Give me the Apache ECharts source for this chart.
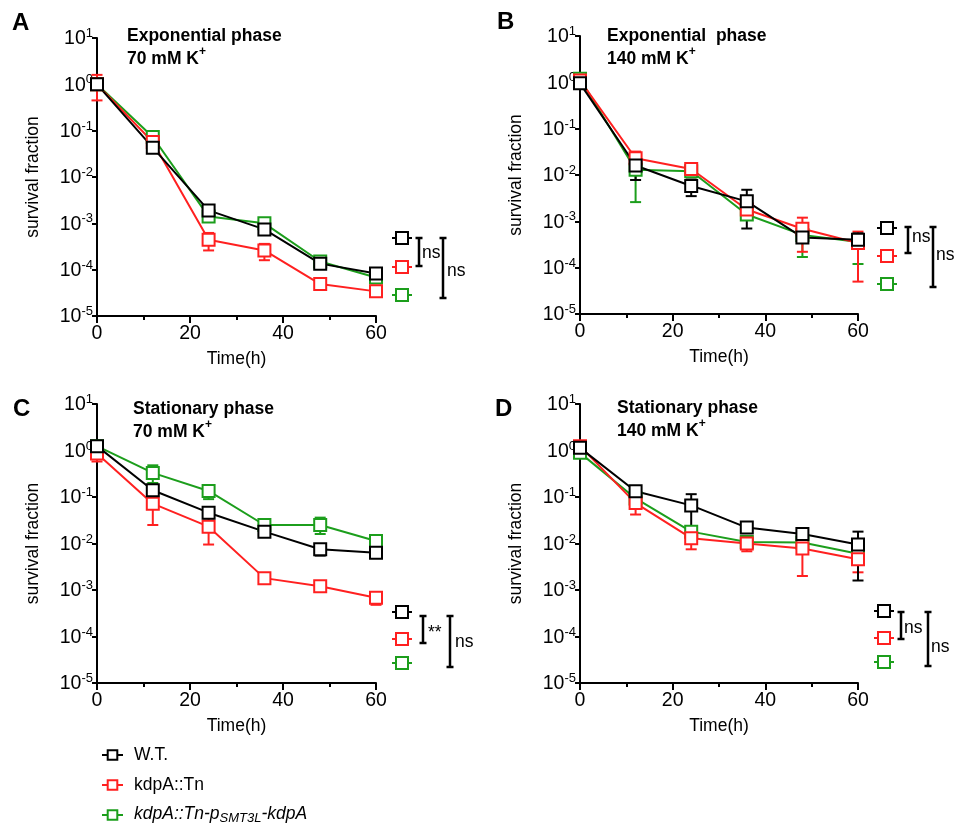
<!DOCTYPE html>
<html><head><meta charset="utf-8">
<script src="https://cdn.jsdelivr.net/npm/echarts@6/dist/echarts.min.js"></script>
<style>html,body{margin:0;padding:0;background:#fff}#c{width:955px;height:827px}</style>
</head><body><div id="c"></div><script>
// ---------- data ----------
const times = [0, 12, 24, 36, 48, 60];
const xTicks = [0, 20, 40, 60];
const seriesNames = ['W.T.', 'kdpA::Tn', 'kdpA::Tn-pSMT3L-kdpA'];
const panelLetters = ['A', 'B', 'C', 'D'];
const titleLine1 = ['Exponential phase', 'Exponential  phase', 'Stationary phase', 'Stationary phase'];
const titleLine2 = ['70 mM K', '140 mM K', '70 mM K', '140 mM K'];
const sigInner = ['ns', 'ns', '**', 'ns'];
const sigOuter = ['ns', 'ns', 'ns', 'ns'];

// Panel A: Exponential phase, 70 mM K+
const A_wt   = [1.0, 0.043, 0.0019, 7.4e-4, 1.35e-4, 8.3e-5];
const A_kdp  = [1.0, 0.057, 4.4e-4, 2.6e-4, 4.9e-5, 3.4e-5];
const A_comp = [1.0, 0.073, 1.4e-3, 1.0e-3, 1.5e-4, 6.8e-5];
const A_wt_err   = [[0.9, 1.1], [0.033, 0.05], [0.0016, 0.0023], [5.8e-4, 9e-4], [1.2e-4, 1.5e-4], [7.3e-5, 9.3e-5]];
const A_kdp_err  = [[0.45, 1.6], [0.05, 0.065], [2.6e-4, 6.2e-4], [1.6e-4, 3.6e-4], null, null];
const A_comp_err = [null, [0.065, 0.082], null, [0.85e-3, 1.15e-3], null, [5.5e-5, 7.5e-5]];

// Panel B: Exponential phase, 140 mM K+
const B_wt   = [0.95, 0.016, 0.0058, 0.0027, 4.5e-4, 4.0e-4];
const B_kdp  = [1.1, 0.023, 0.0135, 0.0018, 6.9e-4, 3.4e-4];
const B_comp = [1.2, 0.013, 0.012, 1.4e-3, 5.1e-4, 3.6e-4];
const B_wt_err   = [null, [0.0078, 0.022], [0.0035, 0.008], [7e-4, 4.8e-3], [3.8e-4, 5.2e-4], [3e-4, 5.5e-4]];
const B_kdp_err  = [[1.0, 1.25], [0.018, 0.032], [0.011, 0.016], [1.3e-3, 2.3e-3], [2.2e-4, 1.2e-3], [5e-5, 6e-4]];
const B_comp_err = [[1.0, 1.5], [2.6e-3, 0.018], [0.0105, 0.0135], [1.1e-3, 1.7e-3], [1.7e-4, 7e-4], [1.2e-4, 5e-4]];

// Panel C: Stationary phase, 70 mM K+
const C_wt   = [1.24, 0.14, 0.046, 0.018, 0.0075, 0.0063];
const C_kdp  = [0.86, 0.072, 0.023, 0.0018, 0.0012, 6.8e-4];
const C_comp = [1.24, 0.33, 0.135, 0.025, 0.025, 0.0113];
const C_wt_err   = [null, [0.12, 0.16], [0.035, 0.055], [0.014, 0.022], [0.0055, 0.009], [0.0055, 0.0072]];
const C_kdp_err  = [[0.58, 1.0], [0.025, 0.1], [0.0095, 0.035], null, null, [4.8e-4, 9e-4]];
const C_comp_err = [null, [0.2, 0.48], [0.09, 0.18], [0.019, 0.031], [0.016, 0.036], [0.01, 0.013]];

// Panel D: Stationary phase, 140 mM K+
const D_wt   = [1.14, 0.133, 0.066, 0.022, 0.016, 0.0095];
const D_kdp  = [1.24, 0.074, 0.013, 0.01, 0.0078, 0.0046];
const D_comp = [0.89, 0.093, 0.018, 0.0108, 0.0105, 0.006];
const D_wt_err   = [null, [0.11, 0.15], [0.02, 0.115], [0.02, 0.025], [0.013, 0.019], [0.0016, 0.018]];
const D_kdp_err  = [[1.0, 1.5], [0.042, 0.1], [0.0075, 0.018], [0.0068, 0.012], [0.002, 0.011], [0.0024, 0.0065]];
const D_comp_err = [null, [0.08, 0.1], [0.013, 0.022], null, [0.009, 0.012], [0.0035, 0.008]];

// ---------- styling / layout ----------
const colors = ['#000000', '#ff2020', '#1c9e1c'];
const FONT = '"Liberation Sans", Arial, sans-serif';
const grids = [
  {left: 97, top: 38, width: 279, height: 278},
  {left: 580, top: 36, width: 278, height: 278},
  {left: 97, top: 404, width: 279, height: 279},
  {left: 580, top: 404, width: 278, height: 279}
];
const letterPos = [[12, 11], [497, 10], [13, 397], [495, 397]];
const titlePos = [[127, 23], [607, 23], [133, 396], [617, 395]];
// annotation layout: mini-legend x, ys; inner bracket x,y1,y2,textX,textY; outer bracket ...
const annot = [
  {mx: 402, my: [238, 267, 295], ix: 419, iy: [238, 266], itx: 422, ity: 253, ox: 443, oy: [238, 298], otx: 447, oty: 271},
  {mx: 887, my: [228, 256, 284], ix: 908, iy: [227, 253], itx: 912, ity: 237, ox: 933, oy: [227, 287], otx: 936, oty: 255},
  {mx: 402, my: [612, 639, 663], ix: 423, iy: [616, 643], itx: 428, ity: 633, ox: 450, oy: [616, 667], otx: 455, oty: 642},
  {mx: 884, my: [611, 638, 662], ix: 901, iy: [612, 639], itx: 904, ity: 628, ox: 928, oy: [612, 666], otx: 931, oty: 647}
];

const panelData = [
  [[A_wt, A_wt_err], [A_kdp, A_kdp_err], [A_comp, A_comp_err]],
  [[B_wt, B_wt_err], [B_kdp, B_kdp_err], [B_comp, B_comp_err]],
  [[C_wt, C_wt_err], [C_kdp, C_kdp_err], [C_comp, C_comp_err]],
  [[D_wt, D_wt_err], [D_kdp, D_kdp_err], [D_comp, D_comp_err]]
];

function renderErr(params, api) {
  const x = api.value(0), lo = api.value(1), hi = api.value(2);
  const pLo = api.coord([x, lo]), pHi = api.coord([x, hi]);
  const w = 5.5;
  const st = {stroke: api.visual('color'), lineWidth: 2, fill: null};
  return {type: 'group', children: [
    {type: 'line', shape: {x1: pLo[0], y1: pLo[1], x2: pHi[0], y2: pHi[1]}, style: st},
    {type: 'line', shape: {x1: pLo[0] - w, y1: pLo[1], x2: pLo[0] + w, y2: pLo[1]}, style: st},
    {type: 'line', shape: {x1: pHi[0] - w, y1: pHi[1], x2: pHi[0] + w, y2: pHi[1]}, style: st}
  ]};
}

const xAxes = [], yAxes = [], series = [], titles = [], graphics = [];
grids.forEach((g, p) => {
  xAxes.push({
    type: 'value', gridIndex: p, min: 0, max: 60, interval: 20,
    axisLine: {lineStyle: {color: '#000', width: 2}},
    axisTick: {length: 7, lineStyle: {color: '#000', width: 2}},
    minorTick: {show: true, splitNumber: 2, length: 4, lineStyle: {color: '#000', width: 2}},
    splitLine: {show: false},
    axisLabel: {fontSize: 19.5, color: '#000', margin: 8, fontFamily: FONT},
    name: 'Time(h)', nameLocation: 'middle', nameGap: 34,
    nameTextStyle: {fontSize: 17.5, color: '#000', fontFamily: FONT}
  });
  yAxes.push({
    type: 'log', logBase: 10, gridIndex: p, min: 1e-5, max: 10, splitNumber: 6,
    axisLine: {show: true, lineStyle: {color: '#000', width: 2}},
    axisTick: {show: true, length: 5, lineStyle: {color: '#000', width: 2}},
    splitLine: {show: false},
    axisLabel: {
      margin: 4, color: '#000', fontFamily: FONT,
      formatter: v => '{a|10}{b|' + Math.round(Math.log10(v)) + '}',
      rich: {
        a: {fontSize: 19.5, lineHeight: 22, verticalAlign: 'bottom', color: '#000', fontFamily: FONT},
        b: {fontSize: 13, lineHeight: 13, verticalAlign: 'top', color: '#000', fontFamily: FONT}
      }
    },
    name: 'survival fraction', nameLocation: 'middle', nameGap: 55,
    nameTextStyle: {fontSize: 17.5, color: '#000', fontFamily: FONT}
  });
  // error bars first (drawn underneath), order: comp, kdp, wt
  [2, 1, 0].forEach(k => {
    const errs = panelData[p][k][1];
    const d = [];
    errs.forEach((e, i) => { if (e) d.push([times[i], e[0], e[1]]); });
    series.push({
      type: 'custom', name: 'err' + p + k, xAxisIndex: p, yAxisIndex: p,
      renderItem: renderErr, data: d, encode: {x: 0, y: [1, 2]},
      itemStyle: {color: colors[k]}, z: 2, silent: true
    });
  });
  [2, 1, 0].forEach(k => {
    const vals = panelData[p][k][0];
    series.push({
      type: 'line', name: seriesNames[k], xAxisIndex: p, yAxisIndex: p,
      data: vals.map((v, i) => [times[i], v]),
      symbol: 'rect', symbolSize: 12, showAllSymbol: true,
      lineStyle: {color: colors[k], width: 2},
      itemStyle: {color: '#fff', borderColor: colors[k], borderWidth: 2},
      emphasis: {disabled: true}, z: 3
    });
  });
  titles.push({
    text: panelLetters[p], left: letterPos[p][0], top: letterPos[p][1], padding: 0,
    textStyle: {fontSize: 24, fontWeight: 'bold', color: '#000', fontFamily: FONT, lineHeight: 24}
  });
  titles.push({
    text: '{t|' + titleLine1[p] + '}\n{t|' + titleLine2[p] + '}{p|+}',
    left: titlePos[p][0], top: titlePos[p][1], padding: 0,
    textStyle: {
      rich: {
        t: {fontSize: 17.5, fontWeight: 'bold', color: '#000', fontFamily: FONT, lineHeight: 22.5, verticalAlign: 'bottom'},
        p: {fontSize: 12, fontWeight: 'bold', color: '#000', fontFamily: FONT, lineHeight: 12, verticalAlign: 'top'}
      }
    }
  });
  // annotations
  const a = annot[p];
  a.my.forEach((y, k) => {
    graphics.push({type: 'line', shape: {x1: a.mx - 10, y1: y, x2: a.mx + 10, y2: y}, style: {stroke: colors[k], lineWidth: 2}});
    graphics.push({type: 'rect', shape: {x: a.mx - 6, y: y - 6, width: 12, height: 12}, style: {fill: '#fff', stroke: colors[k], lineWidth: 2}, z: 101});
  });
  [[a.ix, a.iy, a.itx, a.ity, sigInner[p]], [a.ox, a.oy, a.otx, a.oty, sigOuter[p]]].forEach(b => {
    const [x, ys, tx, ty, txt] = b;
    const st = {stroke: '#000', lineWidth: 2.5};
    graphics.push({type: 'line', shape: {x1: x, y1: ys[0], x2: x, y2: ys[1]}, style: st});
    graphics.push({type: 'line', shape: {x1: x - 3.5, y1: ys[0], x2: x + 3.5, y2: ys[0]}, style: st});
    graphics.push({type: 'line', shape: {x1: x - 3.5, y1: ys[1], x2: x + 3.5, y2: ys[1]}, style: st});
    graphics.push({type: 'text', x: tx, y: ty, style: {text: txt, fontSize: 17.5, fill: '#000', fontFamily: FONT, textVerticalAlign: 'middle', verticalAlign: 'middle', align: 'left'}});
  });
});

const chart = echarts.init(document.getElementById('c'), null, {renderer: 'canvas'});
chart.setOption({
  animation: false,
  backgroundColor: '#fff',
  textStyle: {fontFamily: FONT},
  title: titles,
  grid: grids,
  xAxis: xAxes,
  yAxis: yAxes,
  series: series,
  graphic: graphics,
  legend: {
    data: seriesNames, orient: 'vertical', left: 101, top: 745, padding: 0,
    itemWidth: 21, itemHeight: 12, itemGap: 10,
    formatter: n => n === seriesNames[2] ? '{i|kdpA::Tn-p}{s|SMT3L}{i|-kdpA}' : n,
    textStyle: {
      fontSize: 17.5, color: '#000', fontFamily: FONT, lineHeight: 20, padding: [0, 0, 0, 6],
      rich: {
        i: {fontSize: 17.5, fontStyle: 'italic', color: '#000', fontFamily: FONT, lineHeight: 20, verticalAlign: 'top'},
        s: {fontSize: 13, fontStyle: 'italic', color: '#000', fontFamily: FONT, lineHeight: 13, verticalAlign: 'bottom'}
      }
    }
  }
});
</script></body></html>
